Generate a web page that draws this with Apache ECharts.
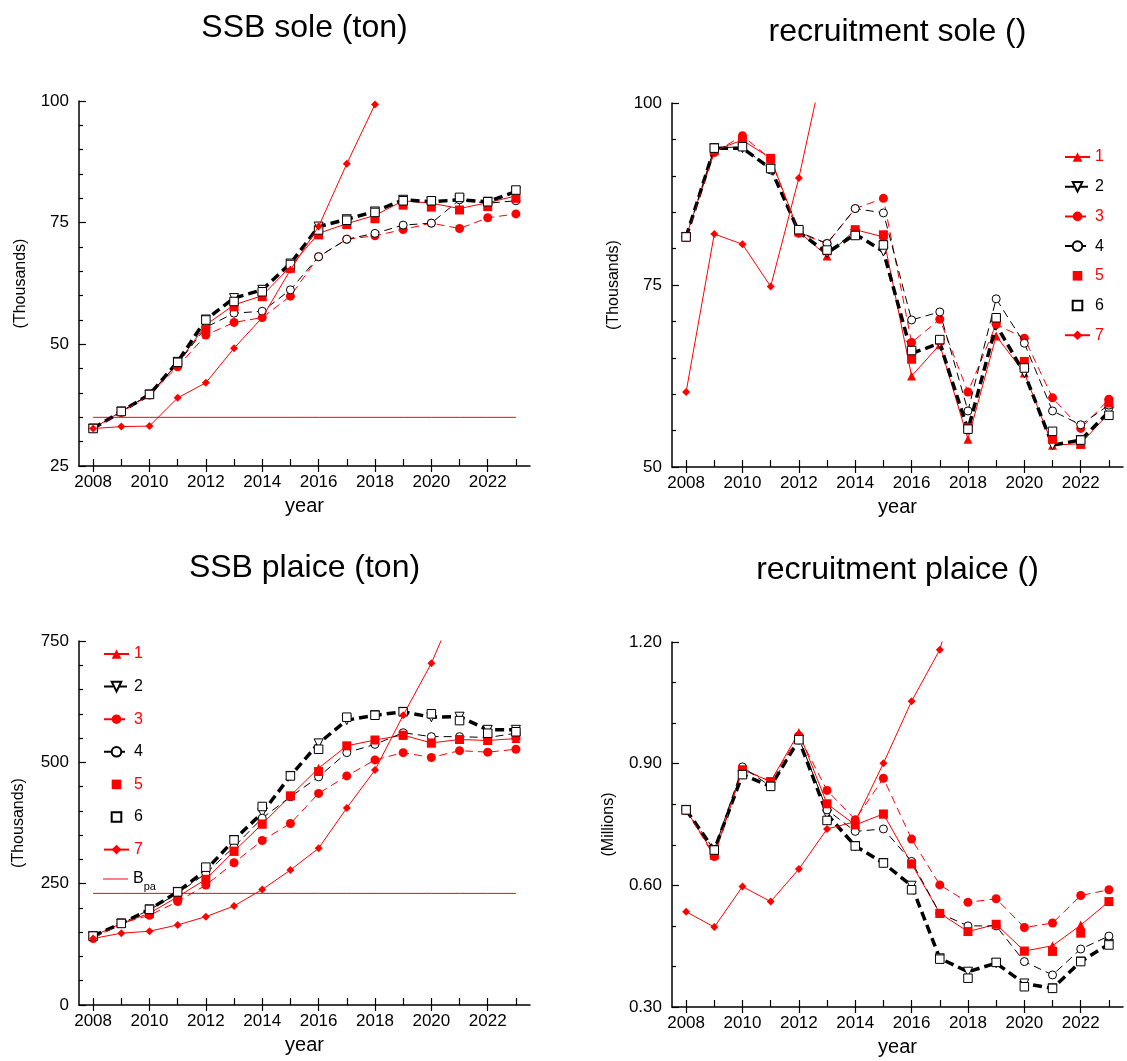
<!DOCTYPE html>
<html><head><meta charset="utf-8">
<script src="https://cdn.jsdelivr.net/npm/echarts@6/dist/echarts.min.js"></script>
<style>html,body{margin:0;padding:0;background:#fff}#c{width:1127px;height:1061px}</style>
</head><body><div id="c"></div>
<script>
const years = ['2008','2009','2010','2011','2012','2013','2014','2015','2016','2017','2018','2019','2020','2021','2022','2023'];

// SSB sole (thousand tonnes)
const ssbSole1 = [32.7,36.2,39.7,46.1,54.0,58.1,60.0,66.0,72.8,74.8,76.5,79.5,79.0,77.9,79.1,80.5];
const ssbSole2 = [32.7,36.2,39.7,46.4,55.1,59.5,61.2,66.6,74.2,75.7,77.3,79.7,79.3,79.7,79.3,81.4];
const ssbSole3 = [32.7,36.0,39.6,45.4,51.9,54.5,55.5,59.9,68.0,71.6,72.3,73.6,74.9,73.8,76.0,76.8];
const ssbSole4 = [32.7,36.2,39.7,46.0,53.5,56.4,56.8,61.2,68.0,71.6,72.8,74.5,74.9,79.7,79.0,79.5];
const ssbSole5 = [32.7,36.2,39.7,46.1,53.1,57.7,59.8,65.6,72.5,74.6,75.8,78.6,78.2,77.6,78.3,80.0];
const ssbSole6 = [32.7,36.2,39.7,46.3,55.0,58.8,60.8,66.4,73.5,75.5,77.1,79.5,79.5,80.2,79.3,81.7];
const ssbSole7 = [32.7,33.1,33.2,39.0,42.1,49.2,55.5,65.3,74.2,87.1,99.3,null,null,null,null,null];
const ssbSoleBpa = 35;

// recruitment sole (thousands)
const recSole1 = [81.6,93.5,94.9,92.4,82.3,79.0,82.6,81.6,62.5,66.8,53.8,68.0,62.9,53.0,53.2,57.4];
const recSole2 = [81.6,93.8,93.8,91.0,82.3,79.4,82.0,79.6,65.6,67.0,55.1,69.5,62.9,53.0,53.7,57.6];
const recSole3 = [81.6,93.2,95.5,92.3,82.1,80.7,85.5,86.9,67.1,70.3,60.3,69.6,67.7,59.5,55.3,59.3];
const recSole4 = [81.6,93.8,94.0,90.8,82.3,80.7,85.5,84.9,70.2,71.3,57.7,73.1,67.0,57.7,55.8,58.5];
const recSole5 = [81.6,93.5,94.9,92.4,82.3,79.7,82.6,81.9,64.8,67.4,55.4,70.3,64.5,53.8,53.1,58.8];
const recSole6 = [81.6,93.8,94.0,91.0,82.6,79.8,81.8,80.5,66.0,67.5,55.2,70.5,63.6,54.9,53.7,57.1];
const recSole7 = [60.3,82.0,80.6,74.8,89.7,107.5,null,null,null,null,null,null,null,null,null,null];

// SSB plaice (thousand tonnes)
const ssbPlaice1 = [142,168,189,223,259,317,373,431,488,534,546,556,540,547,545,549];
const ssbPlaice2 = [142,168,197,233,278,340,396,472,539,587,597,604,593,594,567,567];
const ssbPlaice3 = [137,168,185,213,247,293,339,374,436,472,505,520,510,524,521,527];
const ssbPlaice4 = [142,168,196,230,271,326,385,429,470,520,537,561,553,553,551,560];
const ssbPlaice5 = [142,168,189,223,259,317,373,431,481,534,546,556,540,547,545,554];
const ssbPlaice6 = [142,168,197,233,284,340,409,472,527,593,597,604,600,586,560,563];
const ssbPlaice7 = [137,148,152,165,182,204,238,278,323,406,484,597,704,840,null,null];
const ssbPlaiceBpa = 230;

// recruitment plaice (millions)
const recPlaice1 = [0.786,0.675,0.885,0.856,0.977,0.801,0.749,0.776,0.653,0.531,0.486,0.504,0.438,0.451,0.502,0.560];
const recPlaice2 = [0.786,0.687,0.873,0.844,0.959,0.775,0.697,0.655,0.599,0.420,0.387,0.408,0.358,0.346,0.412,0.455];
const recPlaice3 = [0.786,0.671,0.887,0.856,0.969,0.834,0.762,0.864,0.714,0.601,0.558,0.567,0.496,0.507,0.575,0.589];
const recPlaice4 = [0.786,0.687,0.892,0.844,0.963,0.786,0.733,0.739,0.659,0.531,0.500,0.500,0.412,0.379,0.443,0.475];
const recPlaice5 = [0.786,0.675,0.885,0.856,0.963,0.801,0.749,0.776,0.653,0.531,0.486,0.504,0.438,0.437,0.482,0.560];
const recPlaice6 = [0.786,0.687,0.873,0.844,0.959,0.760,0.697,0.655,0.589,0.418,0.371,0.410,0.350,0.346,0.412,0.453];
const recPlaice7 = [0.535,0.497,0.597,0.560,0.640,0.739,0.757,0.901,1.054,1.181,1.42,null,null,null,null,null];

const titles = ['SSB sole (ton)','recruitment sole ()','SSB plaice (ton)','recruitment plaice ()'];
const seriesNames = ['1','2','3','4','5','6','7'];

const RED = '#ff0000', BLACK = '#000000';
const FONT = 'Liberation Sans, Arial, sans-serif';

const grids = [
  {left:79, top:101, width:451, height:365},
  {left:672, top:103, width:451, height:364},
  {left:79, top:641, width:451, height:364},
  {left:672, top:642, width:451, height:365}
];
const yCfg = [
  {min:25, max:100, interval:25, split:5, name:'(Thousands)', gap:50, fmt:v=>String(v)},
  {min:50, max:100, interval:25, split:5, name:'(Thousands)', gap:50, fmt:v=>String(v)},
  {min:0, max:750, interval:250, split:5, name:'(Thousands)', gap:52, fmt:v=>String(v)},
  {min:0.3, max:1.2, interval:0.3, split:3, name:'(Millions)', gap:55, fmt:v=>v.toFixed(2)}
];
const titleY = [7, 11, 547, 549];

const NOLINE = {color:RED, width:0, opacity:0};
function styleFor(k){
  switch(k){
    case 0: return {symbol:'triangle', symbolSize:9, itemStyle:{color:RED}, lineStyle:{color:RED,width:1}};
    case 1: return {symbol:'triangle', symbolRotate:180, symbolSize:9, itemStyle:{color:'#fff',borderColor:BLACK,borderWidth:1}, lineStyle:{color:BLACK,width:3.5,type:[9,5]}};
    case 2: return {symbol:'circle', symbolSize:9, itemStyle:{color:RED}, lineStyle:{color:RED,width:1,type:[8,5]}};
    case 3: return {symbol:'circle', symbolSize:8, itemStyle:{color:'#fff',borderColor:BLACK,borderWidth:1}, lineStyle:{color:BLACK,width:1,type:[8,5]}};
    case 4: return {symbol:'rect', symbolSize:9, itemStyle:{color:RED}, lineStyle:NOLINE};
    case 5: return {symbol:'rect', symbolSize:8.5, itemStyle:{color:'#fff',borderColor:BLACK,borderWidth:1}, lineStyle:{color:BLACK,width:0,opacity:0}};
    case 6: return {symbol:'diamond', symbolSize:8, itemStyle:{color:RED}, lineStyle:{color:RED,width:1}};
  }
}

const panels = [
  [ssbSole1,ssbSole2,ssbSole3,ssbSole4,ssbSole5,ssbSole6,ssbSole7],
  [recSole1,recSole2,recSole3,recSole4,recSole5,recSole6,recSole7],
  [ssbPlaice1,ssbPlaice2,ssbPlaice3,ssbPlaice4,ssbPlaice5,ssbPlaice6,ssbPlaice7],
  [recPlaice1,recPlaice2,recPlaice3,recPlaice4,recPlaice5,recPlaice6,recPlaice7]
];
const bpaByPanel = [ssbSoleBpa, null, ssbPlaiceBpa, null];

const series = [];
panels.forEach((arrs, p) => {
  if (bpaByPanel[p] !== null) {
    series.push({
      name: p === 2 ? 'Bpa' : 'BpaSole', type:'line', xAxisIndex:p, yAxisIndex:p,
      data: years.map(() => bpaByPanel[p]), symbol:'none', silent:true,
      lineStyle:{color:RED, width:1}, itemStyle:{color:RED}, z:1
    });
  }
  arrs.forEach((d, k) => {
    series.push(Object.assign({
      name: seriesNames[k], type:'line', xAxisIndex:p, yAxisIndex:p, data:d, clip:true, z:2+k,
      showSymbol:true, showAllSymbol:true, connectNulls:false
    }, styleFor(k)));
  });
});

const xAxes = [];
grids.forEach((g, i) => {
  xAxes.push({
    type:'category', gridIndex:i, data:years, boundaryGap:true, position:'bottom',
    axisLine:{show:true, lineStyle:{color:BLACK, width:1.5}},
    axisTick:{show:true, alignWithLabel:true, inside:true, length:7, interval:0, lineStyle:{color:BLACK, width:1.2}},
    axisLabel:{interval:1, fontSize:17, color:BLACK, margin:8, fontFamily:FONT},
    name:'year', nameLocation:'middle', nameGap:30,
    nameTextStyle:{fontSize:20, color:BLACK, fontFamily:FONT},
    splitLine:{show:false}
  });
});
// outward tick marks at the labelled (even) years
grids.forEach((g, i) => {
  xAxes.push({
    type:'category', gridIndex:i, data:years, boundaryGap:true, position:'bottom', offset:0,
    axisLine:{show:false},
    axisTick:{show:true, alignWithLabel:true, inside:false, length:6, interval:1, lineStyle:{color:BLACK, width:1.2}},
    axisLabel:{show:false}, splitLine:{show:false}
  });
});

const yAxes = yCfg.map((c, i) => ({
  type:'value', gridIndex:i, min:c.min, max:c.max, interval:c.interval,
  axisLine:{show:true, lineStyle:{color:BLACK, width:1.5}},
  axisTick:{show:true, inside:true, length:7, lineStyle:{color:BLACK, width:1.2}},
  minorTick:{show:true, splitNumber:c.split, length:4, lineStyle:{color:BLACK, width:1.2}},
  axisLabel:{fontSize:17, color:BLACK, margin:10, fontFamily:FONT, formatter:c.fmt},
  splitLine:{show:false}, minorSplitLine:{show:false},
  name:c.name, nameLocation:'middle', nameGap:c.gap,
  nameTextStyle:{fontSize:16, color:BLACK, fontFamily:FONT}
}));

const legendData = seriesNames.map((n, k) => ({name:n, textStyle:{color: (k % 2 === 0) ? RED : BLACK}}));

const option = {
  animation:false,
  backgroundColor:'#fff',
  textStyle:{fontFamily:FONT},
  title: titles.map((t, i) => ({
    text:t, left: grids[i].left + grids[i].width/2 - 5, top: titleY[i], textAlign:'center',
    textStyle:{fontSize:32, fontWeight:'normal', color:BLACK, fontFamily:FONT}
  })),
  grid: grids,
  xAxis: xAxes,
  yAxis: yAxes,
  legend: [
    {orient:'vertical', left:1059, top:144, itemWidth:25, itemHeight:12, itemGap:13.7,
     textStyle:{fontSize:16, fontFamily:FONT}, data: legendData, selectedMode:false},
    {orient:'vertical', left:98, top:641, itemWidth:25, itemHeight:12, itemGap:16.6,
     textStyle:{fontSize:16, fontFamily:FONT}, data: legendData, selectedMode:false},
    {orient:'vertical', left:98, top:866, itemWidth:25, itemHeight:12,
     textStyle:{fontSize:16, fontFamily:FONT, rich:{
       b:{fontSize:16, fontFamily:FONT, color:BLACK},
       s:{fontSize:11, padding:[16,0,0,0], fontFamily:FONT, color:BLACK}}},
     formatter: () => '{b|B}{s|pa}',
     data: [{name:'Bpa', icon:'path://M0,0H25V1H0Z', textStyle:{color:BLACK}}], selectedMode:false}
  ],
  series: series
};
echarts.init(document.getElementById('c'), null, {renderer:'canvas'}).setOption(option);
</script>
</body></html>
